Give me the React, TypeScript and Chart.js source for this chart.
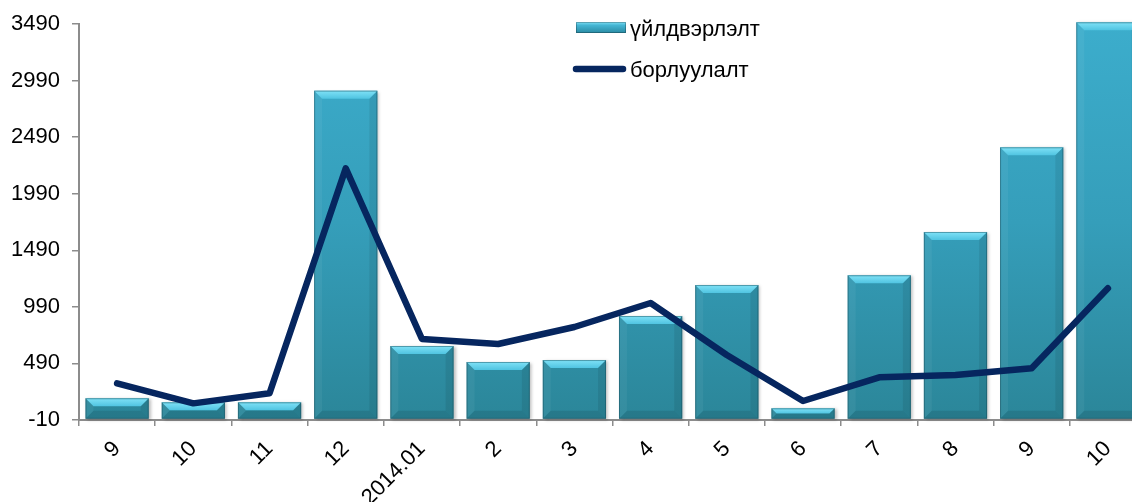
import React, { useEffect, useRef } from "react";
import { Chart, registerables } from "chart.js";

Chart.register(...registerables);

const categories = ["9", "10", "11", "12", "2014.01", "2", "3", "4", "5", "6", "7", "8", "9", "10"];
const productionValues = [182, 146, 146, 2901, 644, 503, 520, 909, 1183, 93, 1269, 1652, 2400, 3505];
const salesValues = [314, 137, 226, 2214, 706, 662, 812, 1024, 564, 158, 367, 388, 447, 1154];
const seriesLabels = ["үйлдвэрлэлт", "борлуулалт"];
const yMin = -10;
const yMax = 3490;
const yStep = 500;

const FONT = "'Liberation Sans', Arial, sans-serif";
const LINE_COLOR = "#06265f";

const bevelPlugin = {
  id: "bevel",
  beforeDatasetDraw(chart: any, args: any) {
    if (args.index !== 0) return;
    const ctx = chart.ctx;
    ctx.save();
    ctx.shadowColor = "rgba(0,0,0,0.25)";
    ctx.shadowOffsetX = 2;
    ctx.shadowOffsetY = 1;
    ctx.shadowBlur = 3;
  },
  afterDatasetDraw(chart: any, args: any) {
    if (args.index !== 0) return;
    const ctx = chart.ctx;
    ctx.restore();
    const meta = chart.getDatasetMeta(0);
    ctx.save();
    meta.data.forEach((el: any) => {
      const { x, y, base, width } = el.getProps(["x", "y", "base", "width"], true);
      const l = x - width / 2;
      const r = x + width / 2;
      const t = Math.min(y, base);
      const b = Math.max(y, base);
      const bv = Math.min(8, (b - t) / 2);
      // top bevel
      const g = ctx.createLinearGradient(0, t, 0, t + bv);
      g.addColorStop(0, "#80e2f7");
      g.addColorStop(1, "#50c4e1");
      ctx.fillStyle = g;
      ctx.beginPath();
      ctx.moveTo(l, t);
      ctx.lineTo(r, t);
      ctx.lineTo(r - bv, t + bv);
      ctx.lineTo(l + bv, t + bv);
      ctx.closePath();
      ctx.fill();
      // left bevel
      ctx.fillStyle = "rgba(255,255,255,0.05)";
      ctx.beginPath();
      ctx.moveTo(l, t);
      ctx.lineTo(l + bv, t + bv);
      ctx.lineTo(l + bv, b - bv);
      ctx.lineTo(l, b);
      ctx.closePath();
      ctx.fill();
      // right bevel
      ctx.fillStyle = "rgba(0,0,0,0.08)";
      ctx.beginPath();
      ctx.moveTo(r, t);
      ctx.lineTo(r - bv, t + bv);
      ctx.lineTo(r - bv, b - bv);
      ctx.lineTo(r, b);
      ctx.closePath();
      ctx.fill();
      // bottom bevel
      ctx.fillStyle = "rgba(0,0,0,0.10)";
      ctx.beginPath();
      ctx.moveTo(l, b);
      ctx.lineTo(r, b);
      ctx.lineTo(r - bv, b - bv);
      ctx.lineTo(l + bv, b - bv);
      ctx.closePath();
      ctx.fill();
      // outline
      ctx.strokeStyle = "rgba(20,70,85,0.45)";
      ctx.lineWidth = 1;
      ctx.strokeRect(l + 0.5, t + 0.5, r - l - 1, b - t - 1);
    });
    ctx.restore();
  },
};

const legendPlugin = {
  id: "customLegend",
  afterDraw(chart: any) {
    const ctx = chart.ctx;
    const ds = chart.data.datasets;
    ctx.save();
    // bar entry
    const g = ctx.createLinearGradient(0, 22, 0, 33);
    g.addColorStop(0, "#7fe0f5");
    g.addColorStop(0.3, "#45b6d4");
    g.addColorStop(1, "#2a8aa2");
    ctx.fillStyle = g;
    ctx.fillRect(576, 22, 50, 11);
    ctx.strokeStyle = "rgba(0,0,0,0.25)";
    ctx.lineWidth = 1;
    ctx.strokeRect(576.5, 22.5, 49, 10);
    ctx.fillStyle = "#000";
    ctx.font = `22px ${FONT}`;
    ctx.textAlign = "left";
    ctx.textBaseline = "alphabetic";
    ctx.fillText(ds[0].label, 630, 36);
    // line entry
    ctx.strokeStyle = LINE_COLOR;
    ctx.lineWidth = 6.5;
    ctx.lineCap = "round";
    ctx.beginPath();
    ctx.moveTo(576, 69);
    ctx.lineTo(623, 69);
    ctx.stroke();
    ctx.fillText(ds[1].label, 630, 77);
    ctx.restore();
  },
};

export default function App() {
  const ref = useRef<HTMLCanvasElement>(null);
  useEffect(() => {
    const canvas = ref.current!;
    const chart = new Chart(canvas, {
      type: "bar",
      data: {
        labels: categories,
        datasets: [
          {
            type: "bar",
            label: seriesLabels[0],
            data: productionValues,
            order: 1,
            clip: false as any,
            barPercentage: 0.83,
            categoryPercentage: 1,
            backgroundColor: (c: any) => {
              const area = c.chart.chartArea;
              if (!area) return "#3399b8";
              const g = c.chart.ctx.createLinearGradient(0, area.top, 0, area.bottom);
              g.addColorStop(0, "#3cadcc");
              g.addColorStop(0.5, "#359eba");
              g.addColorStop(1, "#2b8699");
              return g;
            },
            borderWidth: 0,
          },
          {
            type: "line",
            label: seriesLabels[1],
            data: salesValues,
            order: 0,
            borderColor: LINE_COLOR,
            backgroundColor: LINE_COLOR,
            borderWidth: 6.5,
            borderCapStyle: "round",
            borderJoinStyle: "round",
            pointRadius: 0,
            tension: 0,
            fill: false,
          },
        ],
      },
      options: {
        responsive: false,
        animation: false,
        layout: { padding: { top: 24, left: 0, right: 0, bottom: 0 } },
        plugins: {
          legend: { display: false },
          tooltip: { enabled: false },
        },
        scales: {
          x: {
            offset: true,
            grid: {
              offset: true,
              drawOnChartArea: false,
              drawTicks: true,
              tickLength: 6,
              color: "#8c8c8c",
              lineWidth: 1.5,
            },
            border: { color: "#8c8c8c", width: 2 },
            ticks: {
              color: "#000",
              font: { family: FONT, size: 22 },
              minRotation: 45,
              maxRotation: 45,
              padding: 10,
              autoSkip: false,
            },
            afterFit: (s: any) => {
              s.height = 82;
              s.paddingLeft = 0;
              s.paddingRight = 0;
            },
          },
          y: {
            min: yMin,
            max: yMax,
            grid: {
              drawOnChartArea: false,
              drawTicks: true,
              tickLength: 7,
              color: "#8c8c8c",
              lineWidth: 1.5,
            },
            border: { color: "#8c8c8c", width: 2 },
            ticks: {
              stepSize: yStep,
              color: "#000",
              font: { family: FONT, size: 22 },
              padding: 12,
              callback: (v: any) => String(v),
            },
            afterFit: (s: any) => {
              s.width = 79;
              s.paddingTop = 0;
              s.paddingBottom = 0;
            },
          },
        },
      },
      plugins: [bevelPlugin, legendPlugin],
    } as any);
    return () => chart.destroy();
  }, []);
  return (
    <div
      style={{
        position: "fixed",
        left: 0,
        top: 0,
        width: 1132,
        height: 502,
        overflow: "hidden",
        background: "#fff",
      }}
    >
      <canvas ref={ref} width={1146} height={502} style={{ display: "block" }} />
    </div>
  );
}
